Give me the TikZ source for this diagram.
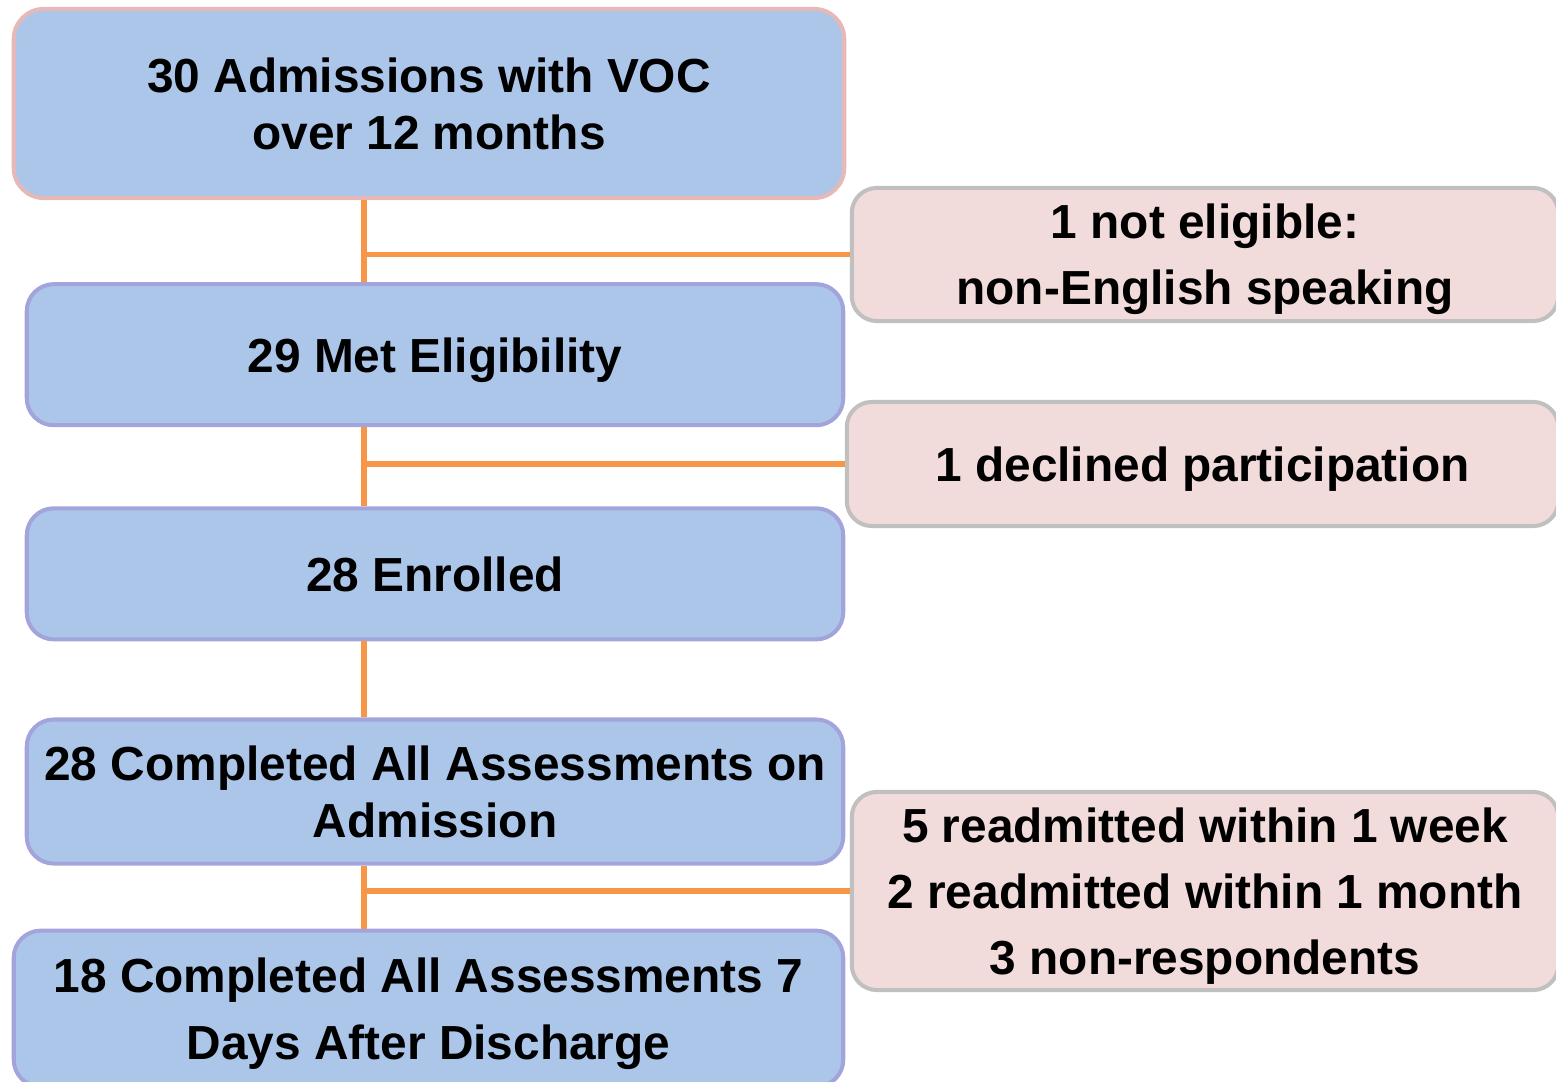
\documentclass[tikz,border=0pt]{standalone}
\usepackage{fontspec}
\setmainfont{Liberation Sans}
\usetikzlibrary{positioning}

\definecolor{stageblue}{HTML}{ACC6EA}
\definecolor{stageedge}{HTML}{A4A4DC}
\definecolor{startedge}{HTML}{E6B9B8}
\definecolor{exclpink}{HTML}{F2DCDB}
\definecolor{exclgray}{HTML}{C0C0C0}
\definecolor{linkorange}{HTML}{F79646}

\begin{document}
\begin{tikzpicture}[
    x=0.01cm, y=-0.01cm,
    stage/.style={rectangle, rounded corners=0.27cm, draw=stageedge, line width=1.15pt, fill=stageblue, minimum width=8.16cm, align=center, text depth=0pt, font=\bfseries\fontsize{13.6}{16.2}\selectfont},
    excl/.style={rectangle, rounded corners=0.25cm, draw=exclgray, line width=1.15pt, fill=exclpink, minimum width=7.06cm, align=center, text depth=0pt, font=\bfseries\fontsize{13.6}{18.8}\selectfont},
    link/.style={draw=linkorange, line width=1.45pt}
]
\useasboundingbox (0,0) rectangle (1556,1082);

% Main flow
\node[stage, draw=startedge, minimum width=8.30cm, minimum height=1.89cm, rounded corners=0.3cm] (adm) at (429,103.5) {30 Admissions with VOC\\over 12 months};
\node[stage, minimum height=1.41cm, below=0.82cm of adm, xshift=0.06cm] (elig) {29 Met Eligibility};
\node[stage, minimum height=1.31cm, below=0.79cm of elig] (enrol) {28 Enrolled};
\node[stage, minimum height=1.44cm, below=0.76cm of enrol] (onadm) {28 Completed All Assessments on\\Admission};
\node[stage, minimum width=8.29cm, minimum height=1.56cm, below=0.63cm of onadm, xshift=-0.065cm,
      font=\bfseries\fontsize{13.6}{18.8}\selectfont] (disch) {18 Completed All Assessments 7\\Days After Discharge};

% Exclusions
\node[excl, minimum height=1.33cm] (noteng) at (1205,254.5) {1 not eligible:\\non-English speaking};
\node[excl, minimum width=7.11cm, minimum height=1.24cm] (declined) at (1202.5,464) {1 declined participation};
\node[excl, minimum height=1.98cm] (lost) at (1205,891) {5 readmitted within 1 week\\2 readmitted within 1 month\\3 non-respondents};

% Connectors
\coordinate (spine) at (364,0);
\draw[link] (adm.south -| spine) -- (elig.north -| spine);
\draw[link] (elig.south -| spine) -- (enrol.north -| spine);
\draw[link] (enrol.south -| spine) -- (onadm.north -| spine);
\draw[link] (onadm.south -| spine) -- (disch.north -| spine);
\draw[link] (spine |- noteng.west) -- (noteng.west);
\draw[link] (spine |- declined.west) -- (declined.west);
\draw[link] (spine |- lost.west) -- (lost.west);

\end{tikzpicture}
\end{document}
